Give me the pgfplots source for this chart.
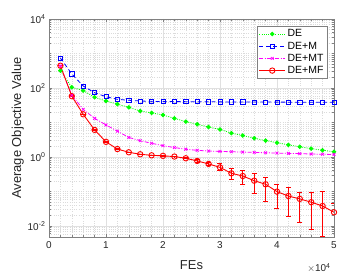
\documentclass[border=0pt]{standalone}
\usepackage{pgfplots}
\pgfplotsset{compat=1.18}
\usepackage{pgfplotstable}
\usepackage{fontspec}
\setmainfont{Liberation Sans}
\definecolor{mgreen}{RGB}{0,255,0}
\definecolor{mblue}{RGB}{0,0,255}
\definecolor{mmag}{RGB}{255,0,255}
\definecolor{mred}{RGB}{255,0,0}
\definecolor{axgray}{RGB}{128,128,128}

\pgfplotstableread{
x y
2000 318
4000 105
6000 84
8000 54
10000 42
12000 34
14000 27.5
16000 21.6
18000 19
20000 16.5
22000 13.2
24000 10.6
26000 8.9
28000 7.4
30000 6.3
32000 4.9
34000 4.2
36000 3.5
38000 3.0
40000 2.6
42000 2.25
44000 1.98
46000 1.75
48000 1.57
50000 1.42
}\tabDE

\pgfplotstableread{
x y
2000 740
4000 255
6000 114
8000 73
10000 56
12000 47
14000 44
16000 42
18000 41
20000 40.7
22000 40.4
24000 40.2
26000 40
28000 39.8
30000 39.6
32000 39.4
34000 39.3
36000 39.2
38000 39.1
40000 39
42000 38.9
44000 38.8
46000 38.7
48000 38.6
50000 38.5
}\tabDEM

\pgfplotstableread{
x y
2000 430
4000 62
6000 24
8000 13.2
10000 8.5
12000 5.6
14000 3.7
16000 2.97
18000 2.5
20000 2.13
22000 1.88
24000 1.68
26000 1.56
28000 1.49
30000 1.45
32000 1.42
34000 1.39
36000 1.36
38000 1.33
40000 1.30
42000 1.27
44000 1.25
46000 1.22
48000 1.20
50000 1.18
}\tabDEMT

\pgfplotstableread{
x y ep em
2000 443 5 5
4000 58 1 1
6000 17.3 0.3 0.3
8000 6.1 0.1 0.1
10000 2.75 0.05 0.05
12000 1.7 0.03 0.03
14000 1.37 0.02 0.02
16000 1.2 0.02 0.02
18000 1.12 0.02 0.02
20000 1.08 0.02 0.02
22000 1.03 0.02 0.02
24000 0.92 0.04 0.04
26000 0.77 0.06 0.06
28000 0.63 0.08 0.07
30000 0.50 0.156 0.10
32000 0.337 0.133 0.111
34000 0.281 0.112 0.119
36000 0.206 0.131 0.117
38000 0.162 0.085 0.109
40000 0.099 0.066 0.066
42000 0.074 0.055 0.055
44000 0.061 0.034 0.048
46000 0.049 0.046 0.041
48000 0.038 0.061 0.033
50000 0.025 0.0205 0.022
}\tabDEMF

\begin{document}
\begin{tikzpicture}
\path[use as bounding box] (-49bp,-36bp) rectangle (310bp,237bp);
\begin{axis}[
  at={(0,0)}, anchor=south west,
  scale only axis,
  width=285bp, height=218bp,
  ymode=log,
  xmin=0, xmax=50000,
  ymin=0.0048, ymax=10000,
  xtick={0,10000,20000,30000,40000,50000},
  xticklabels={0,1,2,3,4,5},
  minor x tick num=4,
  ytick={0.01,1,100,10000},
  yticklabels={10\textsuperscript{-2},10\textsuperscript{0},10\textsuperscript{2},10\textsuperscript{4}},
  minor ytick={0.006,0.007,0.008,0.009,0.02,0.03,0.04,0.05,0.06,0.07,0.08,0.09,0.1,0.2,0.3,0.4,0.5,0.6,0.7,0.8,0.9,2,3,4,5,6,7,8,9,10,20,30,40,50,60,70,80,90,200,300,400,500,600,700,800,900,1000,2000,3000,4000,5000,6000,7000,8000,9000},
  scaled x ticks=false,
  grid=both,
  major grid style={draw=black!12, line width=0.4pt},
  minor grid style={draw=black!14, line width=0.3pt, dotted},
  axis line style={draw=axgray, line width=0.5pt},
  tick style={draw=axgray, line width=0.5pt},
  tick align=inside,
  major tick length=3bp,
  minor tick length=1.8bp,
  ticklabel style={font=\fontsize{10}{12}\selectfont, text=black!85},
  xticklabel style={yshift=-1bp},
  every axis x label/.style={at={(axis description cs:0.5,-0.149)}, anchor=base},
  every axis y label/.style={at={(axis description cs:-0.098,0.5)}, rotate=90, anchor=base},
  label style={font=\fontsize{13}{15}\selectfont, text=black!85},
  xlabel={FEs},
  ylabel={Average Objective Value},
  legend style={at={(axis description cs:0.976,0.968)}, anchor=north east,
    draw=black!50, line width=0.5pt, fill=white,
    font=\fontsize{10.5}{12}\selectfont, inner sep=1.5pt, row sep=-0.5pt},
  legend cell align=left,
  legend image code/.code={\draw[mark repeat=2,mark phase=2] plot coordinates {(0bp,0bp) (13bp,0bp) (26bp,0bp)};},
]
\addplot[mgreen, line width=0.8pt, dash pattern=on 1pt off 1.3pt, mark=*, mark size=1.8bp, mark options={solid, draw=mgreen, fill=mgreen}] table[x=x,y=y] {\tabDE};
\addlegendentry{DE}
\addplot[mblue, line width=0.8pt, dash pattern=on 4pt off 3pt, mark=square, mark size=2.1bp, mark options={solid, draw=mblue}] table[x=x,y=y] {\tabDEM};
\addlegendentry{DE+M}
\addplot[mmag, line width=0.8pt, dash pattern=on 4pt off 1.5pt on 1pt off 1.5pt, mark=x, mark size=2bp, mark options={solid, draw=mmag}] table[x=x,y=y] {\tabDEMT};
\addlegendentry{DE+MT}
\addplot[red, line width=0.9pt, mark=o, mark size=2.7bp, mark options={solid, draw=red},
  error bars/.cd, y dir=both, y explicit,
  error mark options={red, rotate=90, mark size=2.5bp, line width=1pt},
  error bar style={red, line width=1pt}]
  table[x=x,y=y,y error plus=ep,y error minus=em] {\tabDEMF};
\addlegendentry{DE+MF}
\end{axis}
\node[anchor=base east, font=\fontsize{10}{12}\selectfont, text=black!85] at (285bp,-34.7bp) {$\times$10\textsuperscript{4}};
\end{tikzpicture}
\end{document}
